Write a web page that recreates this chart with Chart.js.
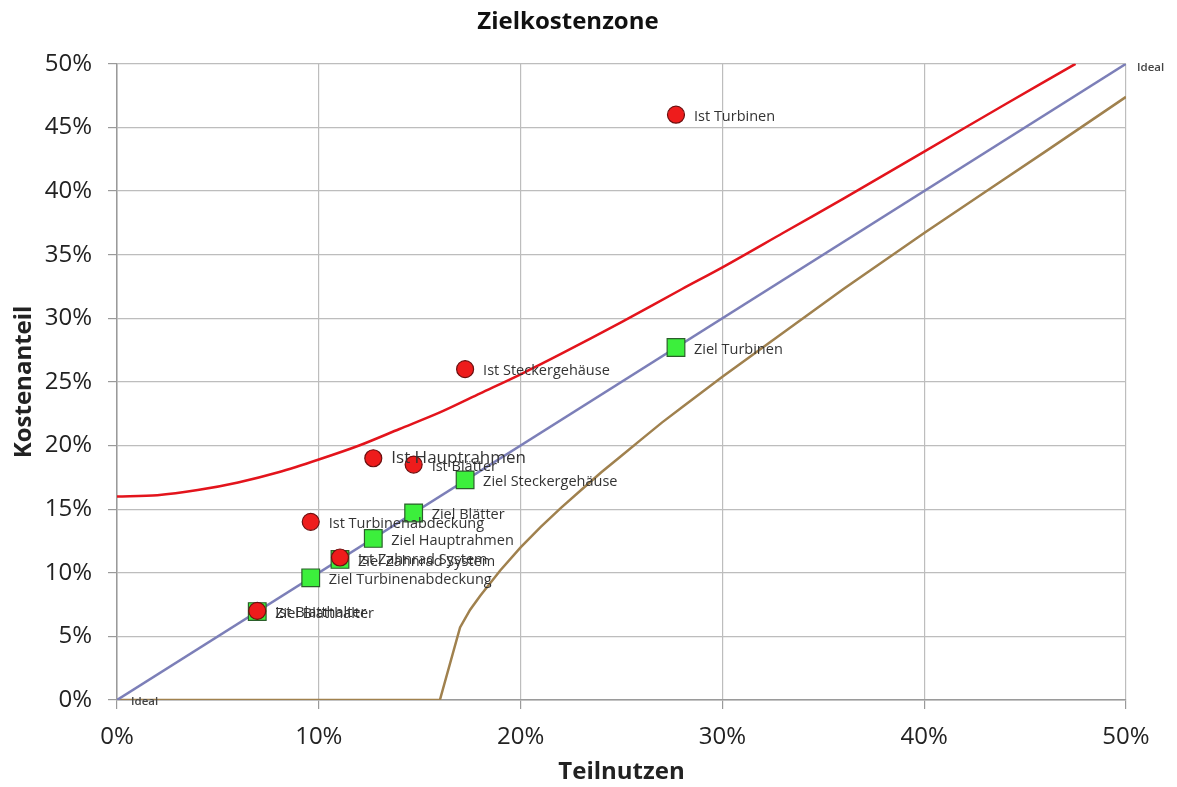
<!DOCTYPE html>
<html>
<head>
<meta charset="utf-8">
<script src="https://cdn.jsdelivr.net/npm/chart.js@4/dist/chart.umd.min.js"></script>
<style>
  html, body { margin: 0; padding: 0; background: #fff; }
  #wrap { width: 1177px; height: 787px; }
</style>
</head>
<body>
<div id="wrap"><canvas id="c"></canvas></div>
<script>
/* Zielkostenzone — Werte (Prozent) */

const IST_LABELS  = ["Ist Turbinen", "Ist Steckergehäuse", "Ist Hauptrahmen", "Ist Blätter",
                     "Ist Turbinenabdeckung", "Ist Zahnrad System", "Ist Blatthalter"];
const IST_X       = [27.7, 17.25, 12.7, 14.7, 9.6, 11.05, 6.95];
const IST_Y       = [46.0, 26.0, 19.0, 18.5, 14.0, 11.2, 7.0];

const ZIEL_LABELS = ["Ziel Turbinen", "Ziel Steckergehäuse", "Ziel Hauptrahmen", "Ziel Blätter",
                     "Ziel Turbinenabdeckung", "Ziel Zahnrad System", "Ziel Blatthalter"];
const ZIEL_X      = [27.7, 17.25, 12.7, 14.7, 9.6, 11.05, 6.95];
const ZIEL_Y      = [27.7, 17.3, 12.7, 14.7, 9.6, 11.05, 6.95];

const IDEAL_X     = [0, 50];
const IDEAL_Y     = [0, 50];

const UPPER_X     = [0, 2, 4, 6, 8, 10, 12, 14, 16, 18, 20, 22, 25, 28, 30, 33, 36, 40, 44, 47.5];
const UPPER_Y     = [16.0, 16.1, 16.5, 17.1, 17.9, 18.9, 20.0, 21.3, 22.6, 24.1, 25.6, 27.2,
                     29.7, 32.3, 34.0, 36.7, 39.4, 43.1, 46.8, 50.0];

const LOWER_X     = [0, 16, 17, 17.5, 18, 18.5, 19, 20, 21, 22, 23, 24, 25, 26, 27, 28, 29,
                     30, 32, 34, 36, 38, 40, 43, 46, 50];
const LOWER_Y     = [0, 0, 5.7, 7.1, 8.2, 9.2, 10.2, 12.0, 13.6, 15.1, 16.5, 17.9, 19.2, 20.5,
                     21.8, 23.0, 24.2, 25.4, 27.7, 30.0, 32.3, 34.5, 36.7, 39.9, 43.1, 47.4];

const X_TICKS     = [0, 10, 20, 30, 40, 50];
const Y_TICKS     = [0, 5, 10, 15, 20, 25, 30, 35, 40, 45, 50];

const FONT = "'Open Sans', 'Noto Sans', sans-serif";
const BIG_LABEL = "Ist Hauptrahmen";

const pts = (xs, ys) => xs.map((x, i) => ({ x, y: ys[i] }));

/* Beschriftungen rechts neben den Punkten */
const pointLabels = {
  id: "pointLabels",
  afterDatasetsDraw(chart) {
    const { ctx, scales: { x, y } } = chart;
    ctx.save();
    ctx.textBaseline = "middle";
    ctx.fillStyle = "#333";
    const draw = (labels, xs, ys) => {
      labels.forEach((t, i) => {
        const px = x.getPixelForValue(xs[i]), py = y.getPixelForValue(ys[i]);
        const big = t === BIG_LABEL;
        ctx.font = (big ? "17px " : "14.5px ") + FONT;
        ctx.fillText(t, px + 18, py + (big ? 0 : 2));
      });
    };
    draw(ZIEL_LABELS, ZIEL_X, ZIEL_Y);
    draw(IST_LABELS, IST_X, IST_Y);

    ctx.font = "600 11.5px " + FONT;
    ctx.fillStyle = "#444";
    ctx.fillText("Ideal", x.getPixelForValue(IDEAL_X[0]) + 14, y.getPixelForValue(IDEAL_Y[0]) + 2);
    ctx.fillText("Ideal", x.getPixelForValue(IDEAL_X[1]) + 11, y.getPixelForValue(IDEAL_Y[1]) + 4);
    ctx.restore();
  },
};

const axisCommon = {
  type: "linear",
  min: 0,
  max: 50,
  grid: { color: "#bdbdbd", lineWidth: 1.2, tickLength: 9, tickColor: "#9a9a9a" },
  border: { color: "#9a9a9a", width: 1.5 },
  ticks: {
    color: "#222",
    font: { family: FONT, size: 24 },
    callback: v => v + "%",
  },
};

new Chart(document.getElementById("c"), {
  type: "scatter",
  data: {
    datasets: [
      {
        label: "Ist", data: pts(IST_X, IST_Y), order: 0,
        pointStyle: "circle", pointRadius: 8.5, pointHoverRadius: 8.5,
        backgroundColor: "#ee1c1c", borderColor: "#6b1010", borderWidth: 1.2,
      },
      {
        label: "Ziel", data: pts(ZIEL_X, ZIEL_Y), order: 1,
        pointStyle: "rect", pointRadius: 12.5, pointHoverRadius: 12.5,
        backgroundColor: "#3cef3c", borderColor: "#2b5e2b", borderWidth: 1.2,
      },
      {
        label: "Ideal", data: pts(IDEAL_X, IDEAL_Y), order: 2,
        showLine: true, pointRadius: 0, borderColor: "#7c7fb8", borderWidth: 2.5,
      },
      {
        label: "Obergrenze", data: pts(UPPER_X, UPPER_Y), order: 3,
        showLine: true, pointRadius: 0, borderColor: "#e3141c", borderWidth: 2.5,
        tension: 0.3,
      },
      {
        label: "Untergrenze", data: pts(LOWER_X, LOWER_Y), order: 4,
        showLine: true, pointRadius: 0, borderColor: "#a0814e", borderWidth: 2.5,
        tension: 0,
      },
    ],
  },
  options: {
    responsive: true,
    maintainAspectRatio: false,
    animation: false,
    layout: { padding: { top: 8, right: 51, bottom: 0, left: 10 } },
    plugins: {
      legend: { display: false },
      tooltip: { enabled: false },
      title: {
        display: true, text: "Zielkostenzone", color: "#111",
        font: { family: FONT, size: 24, weight: "bold" },
        padding: { top: 0, bottom: 27 },
      },
    },
    scales: {
      x: {
        ...axisCommon,
        ticks: { ...axisCommon.ticks, padding: 14 },
        afterBuildTicks: s => { s.ticks = X_TICKS.map(value => ({ value })); },
        afterFit: s => { s.height = 87; },
        title: {
          display: true, text: "Teilnutzen", color: "#222",
          font: { family: FONT, size: 24, weight: "bold" }, padding: { top: 0, bottom: 0 },
        },
      },
      y: {
        ...axisCommon,
        ticks: { ...axisCommon.ticks, padding: 16 },
        afterBuildTicks: s => { s.ticks = Y_TICKS.map(value => ({ value })); },
        afterFit: s => { s.width = 107; },
        title: {
          display: true, text: "Kostenanteil", color: "#222",
          font: { family: FONT, size: 24, weight: "bold" }, padding: { top: 0, bottom: 0 },
        },
      },
    },
  },
  plugins: [pointLabels],
});
</script>
</body>
</html>
